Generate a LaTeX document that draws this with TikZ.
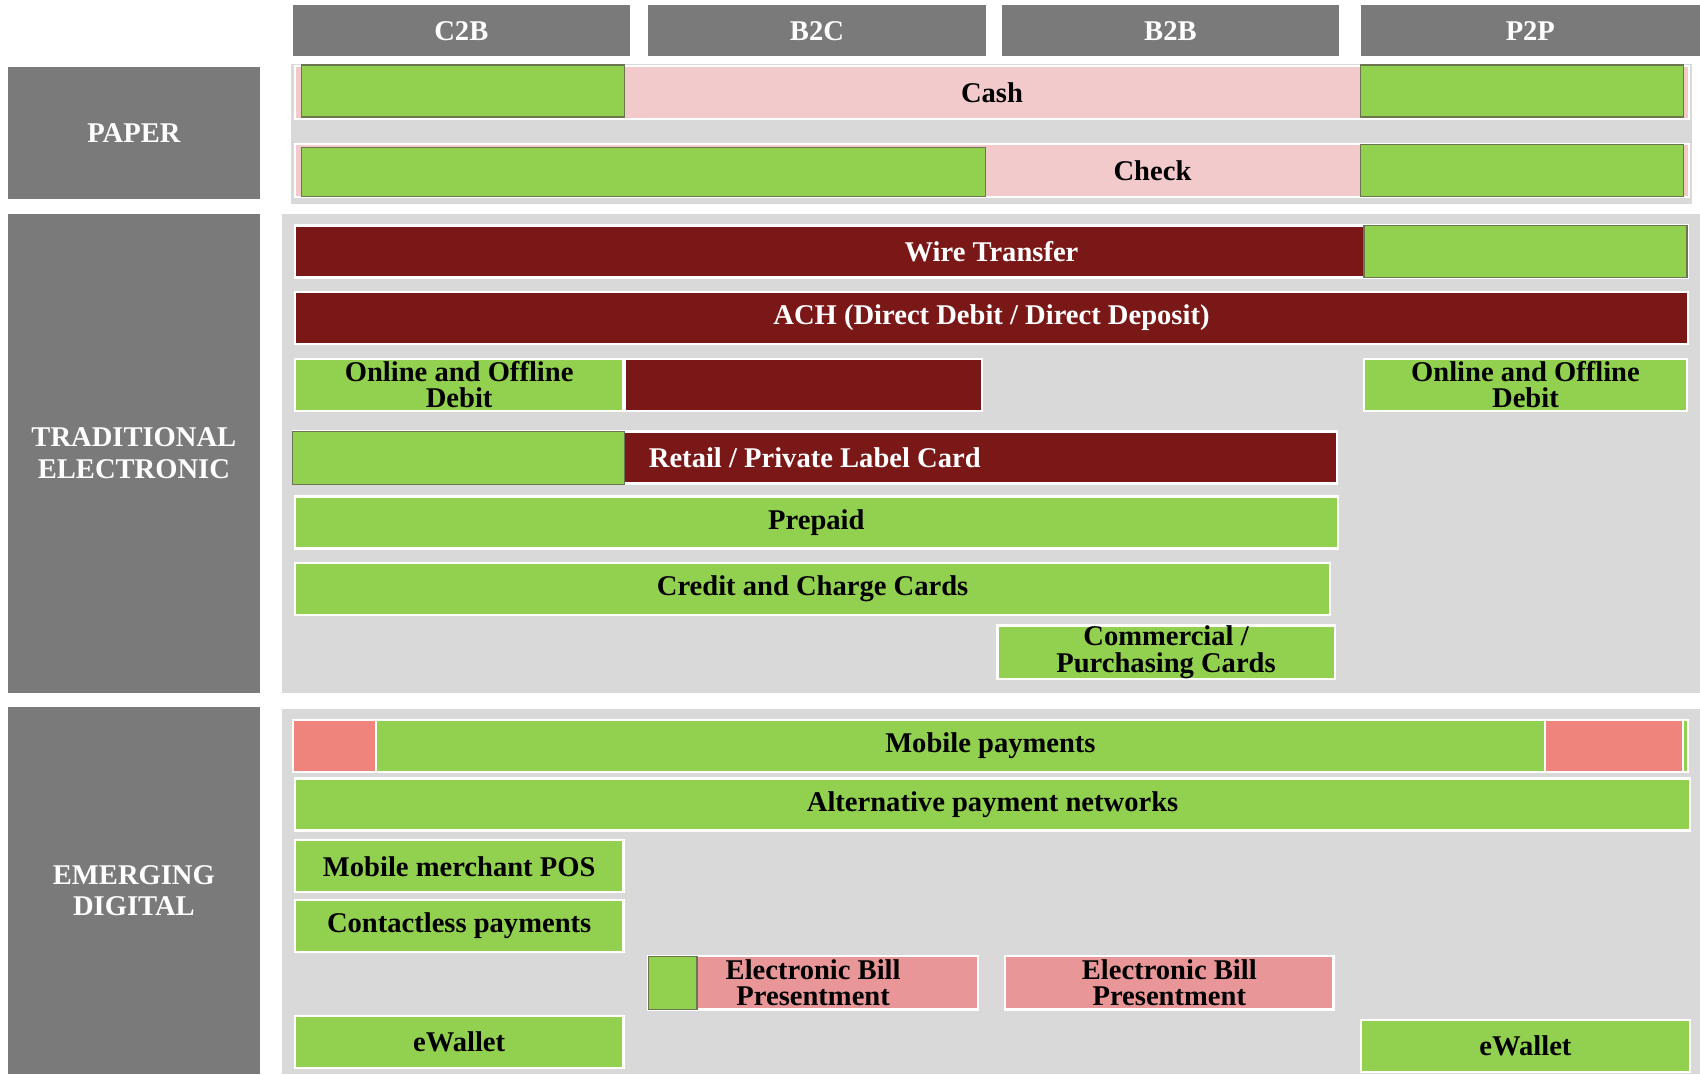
\documentclass[tikz,border=0pt]{standalone}
\usepackage{fontspec}
\setmainfont{Liberation Serif}
\usetikzlibrary{fit}
\definecolor{hdgray}{HTML}{7A7A7A}
\definecolor{pnlgray}{HTML}{D9D9D9}
\definecolor{cellgreen}{HTML}{92D050}
\definecolor{wirered}{HTML}{7A1818}
\definecolor{paperpink}{HTML}{F2CACB}
\definecolor{mobsalmon}{HTML}{EE847C}
\definecolor{billpink}{HTML}{E99698}
\definecolor{edgeolive}{HTML}{6B7550}

\begin{document}
\begin{tikzpicture}[x=0.02cm, y=-0.02cm,
  lbl/.style={font=\fontsize{15}{13.8}\selectfont\bfseries, align=center, inner sep=0pt},
  hlbl/.style={lbl, font=\fontsize{15}{16.5}\selectfont\bfseries, text=white},
  wlbl/.style={lbl, text=white},
  head/.style={rectangle, fill=hdgray, inner sep=0pt},
  pnl/.style={rectangle, fill=pnlgray, inner sep=0pt},
  bar/.style={rectangle, draw=white, line width=1.2pt, inner sep=0pt},
  gbar/.style={bar, fill=cellgreen},
  rbar/.style={bar, fill=wirered},
  pbar/.style={bar, fill=paperpink},
  sbar/.style={bar, fill=mobsalmon},
  ebar/.style={bar, fill=billpink},
  ovl/.style={rectangle, draw=edgeolive, line width=0.7pt, fill=cellgreen, inner sep=0pt}
]
  \useasboundingbox (0,0) rectangle (1568,991);

  % column heads
  \foreach \lab/\xa/\xb in {C2B/270/581, B2C/598/909, B2B/924/1235, P2P/1255/1568}{
    \node[head, fit={(\xa,5) (\xb,52)}] (h\lab) {};
    \node[hlbl] (h\lab lbl) at (h\lab.center) {\lab};
  }

  % row heads
  \node[head, fit={(7,62) (240,184)}] (paper) {};
  \node[hlbl] (paperlbl) at (paper.center) {PAPER};
  \node[head, fit={(7,197) (240,639)}] (trad) {};
  \node[hlbl] (tradlbl) at (trad.center) {TRADITIONAL\\ELECTRONIC};
  \node[head, fit={(7,652) (240,991)}] (emerg) {};
  \node[hlbl] (emerglbl) at (emerg.center) {EMERGING\\DIGITAL};

  % panels
  \node[pnl, fit={(268,59) (1561,188)}] (ppaper) {};
  \node[pnl, fit={(260,197) (1568,639)}] (ptrad) {};
  \node[pnl, fit={(260,654) (1568,991)}] (pemerg) {};

  % paper
  \node[pbar, fit={(272,61) (1558,110)}] (cash) {};
  \node[ovl, fit={(278,60) (576,108)}] (cashc2b) {};
  \node[ovl, fit={(1255,60) (1553,108)}] (cashp2p) {};
  \node[lbl] (cashlbl) at (cash.center) {Cash};
  \node[pbar, fit={(272,133) (1558,182)}] (check) {};
  \node[ovl, fit={(278,136) (909,181)}] (checkc2b) {};
  \node[ovl, fit={(1255,133) (1553,181)}] (checkp2p) {};
  \node[lbl] (checklbl) at (1063,157.5) {Check};

  % traditional electronic
  \node[rbar, fit={(272,208) (1557,256)}] (wire) {};
  \node[ovl, fit={(1258,208) (1556,256)}] (wirep2p) {};
  \node[wlbl] (wirelbl) at (wire.center) {Wire Transfer};
  \node[rbar, fit={(272,269) (1557,317)}] (ach) {};
  \node[wlbl] (achlbl) at (ach.center) {ACH (Direct Debit / Direct Deposit)};
  \node[gbar, fit={(272,331) (575,379)}] (debitl) {};
  \node[lbl] (debitllbl) at (debitl.center) {Online and Offline\\Debit};
  \node[rbar, fit={(576,331) (906,379)}] (debitm) {};
  \node[gbar, fit={(1258,331) (1556,379)}] (debitr) {};
  \node[lbl] (debitrlbl) at (debitr.center) {Online and Offline\\Debit};
  \node[rbar, fit={(270,398) (1233,446)}] (retail) {};
  \node[ovl, fit={(270,398) (576,447)}] (retailc2b) {};
  \node[wlbl] (retaillbl) at (retail.center) {Retail / Private Label Card};
  \node[gbar, fit={(272,458) (1234,506)}] (prepaid) {};
  \node[lbl] (prepaidlbl) at (prepaid.center) {Prepaid};
  \node[gbar, fit={(272,519) (1227,567)}] (credit) {};
  \node[lbl] (creditlbl) at (credit.center) {Credit and Charge Cards};
  \node[gbar, fit={(920,577) (1231,626)}] (commerc) {};
  \node[lbl] (commerclbl) at (commerc.center) {Commercial /\\Purchasing Cards};

  % emerging digital
  \node[gbar, fit={(270,664) (1557,712)}] (mobile) {};
  \node[sbar, fit={(270,664) (347,712)}] (mobilel) {};
  \node[sbar, fit={(1425,664) (1552,712)}] (mobiler) {};
  \node[lbl] (mobilelbl) at (mobile.center) {Mobile payments};
  \node[gbar, fit={(272,718) (1559,766)}] (altnet) {};
  \node[lbl] (altnetlbl) at (altnet.center) {Alternative payment networks};
  \node[gbar, fit={(272,775) (575,823)}] (mpos) {};
  \node[lbl] (mposlbl) at (mpos.center) {Mobile merchant POS};
  \node[gbar, fit={(272,830) (575,878)}] (contactless) {};
  \node[lbl] (contactlesslbl) at (contactless.center) {Contactless payments};
  \node[ebar, fit={(598,882) (902,931)}] (ebpb2c) {};
  \node[ovl, fit={(598,882) (643,931)}] (ebpgreen) {};
  \node[lbl] (ebpb2clbl) at (ebpb2c.center) {Electronic Bill\\Presentment};
  \node[ebar, fit={(927,882) (1230,931)}] (ebpb2b) {};
  \node[lbl] (ebpb2blbl) at (ebpb2b.center) {Electronic Bill\\Presentment};
  \node[gbar, fit={(272,937) (575,985)}] (ewalletl) {};
  \node[lbl] (ewalletllbl) at (ewalletl.center) {eWallet};
  \node[gbar, fit={(1255,941) (1559,989)}] (ewalletr) {};
  \node[lbl] (ewalletrlbl) at (ewalletr.center) {eWallet};
\end{tikzpicture}
\end{document}
